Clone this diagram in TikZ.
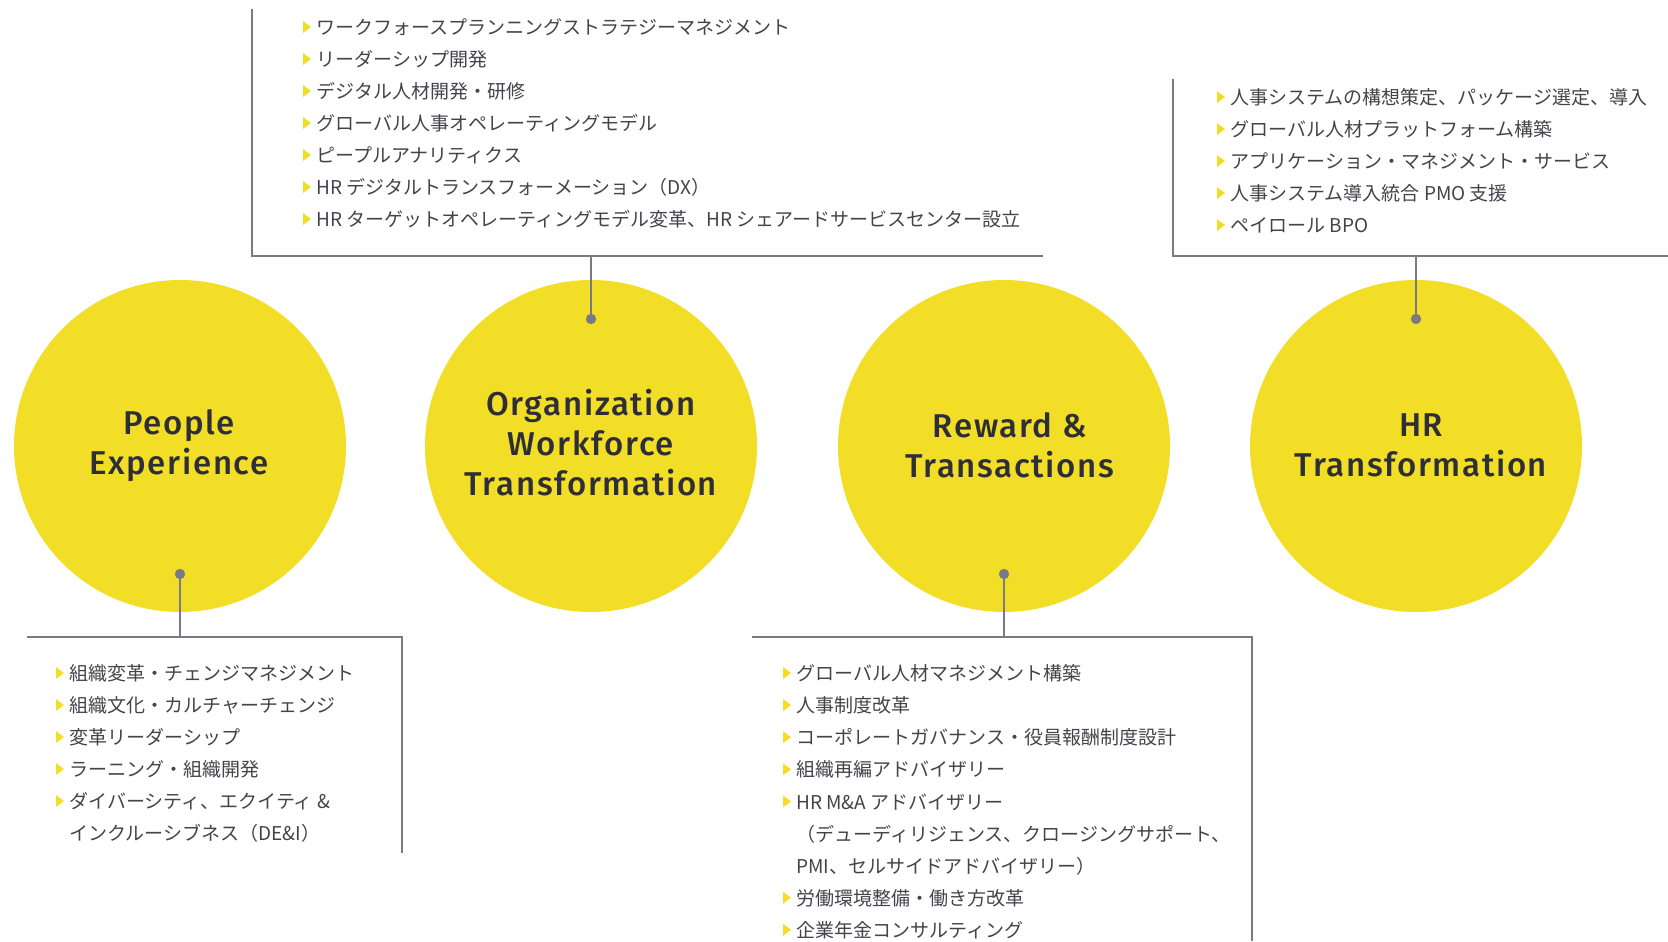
\documentclass[tikz,border=0pt]{standalone}
\usepackage{fontspec}
\setmainfont{Noto Sans CJK JP}
\newfontfamily\titlefont[LetterSpace=5]{Fira Sans Medium}
\definecolor{eyyellow}{HTML}{F2DE26}
\definecolor{eygray}{HTML}{7A7A86}
\definecolor{eytext}{HTML}{2E2E38}

\tikzset{
  topic/.style={circle, fill=eyyellow, minimum size=166pt, inner sep=0pt},
  title/.style={align=center, text=eytext, font=\titlefont\fontsize{16.5}{20}\selectfont},
  rule/.style={draw=eygray, line width=1pt},
  item/.style={anchor=west, inner sep=0pt, text=eytext!90,
    text height=0.88em, text depth=0.12em, font=\fontsize{9.5}{11}\selectfont},
  pin/.style={fill=eygray}
}
% yellow marker in front of a list line
\newcommand{\marker}[1]{\fill[eyyellow] ([xshift=-6.5pt,yshift=3pt]#1.west) -- ++(4pt,-3pt) -- ++(-4pt,-3pt) -- cycle;}

\begin{document}
\begin{tikzpicture}[x=0.5pt,y=-0.5pt]
\useasboundingbox (0,0) rectangle (1668,941);

% circles
\node[topic] (pe) at (180,446) {};
\node[topic] (ow) at (591,446) {};
\node[topic] (rt) at (1004,446) {};
\node[topic] (hr) at (1416,446) {};

\node[title] (pe-t) at ([xshift=-0.5pt]pe.center) {People\\Experience};
\node[title] (ow-t) at ([yshift=1.5pt]ow.center) {Organization\\Workforce\\Transformation};
\node[title] (rt-t) at ([xshift=3pt,yshift=0.5pt]rt.center) {Reward \&\\Transactions};
\node[title] (hr-t) at ([xshift=2.5pt,yshift=0.5pt]hr.center) {HR\\Transformation};

% pins
\coordinate (pe-pin) at ([yshift=-64pt]pe.center);
\coordinate (ow-pin) at ([yshift=63.5pt]ow.center);
\coordinate (rt-pin) at ([yshift=-64pt]rt.center);
\coordinate (hr-pin) at ([yshift=63.5pt]hr.center);

% frames
\coordinate (ow-a) at (252,9);
\coordinate (ow-b) at (252,256);
\coordinate (ow-c) at (1043,256);
\draw[rule] (ow-a) -- (ow-b) -- (ow-c);
\draw[rule] (ow-pin) -- (ow-pin |- ow-b);

\coordinate (hr-a) at (1173,79);
\coordinate (hr-b) at (1173,256);
\coordinate (hr-c) at (1668,256);
\draw[rule] (hr-a) -- (hr-b) -- (hr-c);
\draw[rule] (hr-pin) -- (hr-pin |- hr-b);

\coordinate (pe-a) at (27,637);
\coordinate (pe-b) at (402,637);
\coordinate (pe-c) at (402,853);
\draw[rule] (pe-a) -- (pe-b) -- (pe-c);
\draw[rule] (pe-pin) -- (pe-pin |- pe-a);

\coordinate (rt-a) at (752,637);
\coordinate (rt-b) at (1252,637);
\coordinate (rt-c) at (1252,941);
\draw[rule] (rt-a) -- (rt-b) -- (rt-c);
\draw[rule] (rt-pin) -- (rt-pin |- rt-a);

\foreach \p in {pe-pin,ow-pin,rt-pin,hr-pin}
  \fill[pin] (\p) circle (2.6pt);

% lists
\foreach \b/\t [count=\i] in {
  1/ワークフォースプランニングストラテジーマネジメント,
  1/リーダーシップ開発,
  1/デジタル人材開発・研修,
  1/グローバル人事オペレーティングモデル,
  1/ピープルアナリティクス,
  1/HR デジタルトランスフォーメーション（DX）,
  1/HR ターゲットオペレーティングモデル変革、HR シェアードサービスセンター設立}
{
  \node[item] (ow\i) at (316,{27+32*(\i-1)}) {\t};
  \ifnum\b=1 \marker{ow\i} \fi
}

\foreach \b/\t [count=\i] in {
  1/人事システムの構想策定、パッケージ選定、導入,
  1/グローバル人材プラットフォーム構築,
  1/アプリケーション・マネジメント・サービス,
  1/人事システム導入統合 PMO 支援,
  1/ペイロール BPO}
{
  \node[item] (hr\i) at (1230,{97+32*(\i-1)}) {\t};
  \ifnum\b=1 \marker{hr\i} \fi
}

\foreach \b/\t [count=\i] in {
  1/組織変革・チェンジマネジメント,
  1/組織文化・カルチャーチェンジ,
  1/変革リーダーシップ,
  1/ラーニング・組織開発,
  1/ダイバーシティ、エクイティ \&,
  0/インクルーシブネス（DE\&I）}
{
  \node[item] (pe\i) at (69,{673+32*(\i-1)}) {\t};
  \ifnum\b=1 \marker{pe\i} \fi
}

\foreach \b/\t [count=\i] in {
  1/グローバル人材マネジメント構築,
  1/人事制度改革,
  1/コーポレートガバナンス・役員報酬制度設計,
  1/組織再編アドバイザリー,
  1/HR M\&A アドバイザリー,
  0/（デューディリジェンス、クロージングサポート、,
  0/PMI、セルサイドアドバイザリー）,
  1/労働環境整備・働き方改革,
  1/企業年金コンサルティング}
{
  \node[item] (rt\i) at (796,{673+32.1*(\i-1)}) {\t};
  \ifnum\b=1 \marker{rt\i} \fi
}
\end{tikzpicture}
\end{document}
